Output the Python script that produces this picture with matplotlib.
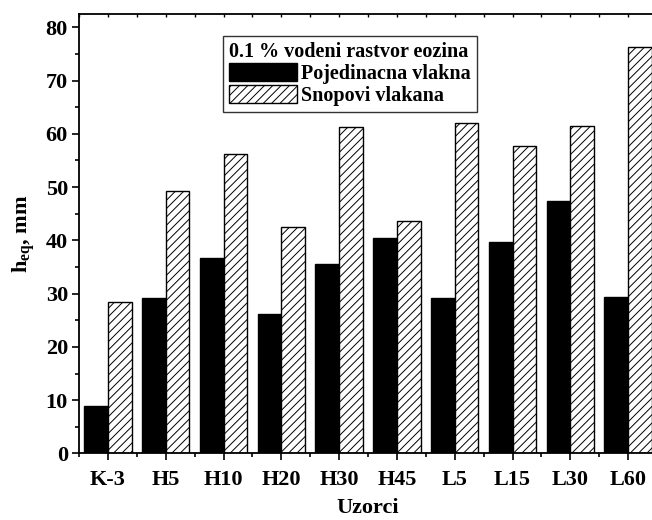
import matplotlib
matplotlib.use('Agg')
import matplotlib.pyplot as plt
import matplotlib.patches as mpatches
import numpy as np

# Data
samples = ['K-3', 'H5', 'H10', 'H20', 'H30', 'H45', 'L5', 'L15', 'L30', 'L60']
single_fibers = [8.9, 29.2, 36.6, 26.2, 35.6, 40.4, 29.2, 39.6, 47.3, 29.4]
fiber_bundles = [28.4, 49.3, 56.3, 42.5, 61.3, 43.6, 62.0, 57.8, 61.5, 76.3]

plt.rcParams['font.family'] = 'Liberation Serif'
plt.rcParams['font.weight'] = 'bold'
plt.rcParams['mathtext.fontset'] = 'custom'
plt.rcParams['mathtext.rm'] = 'Liberation Serif:bold'
plt.rcParams['mathtext.bf'] = 'Liberation Serif:bold'
plt.rcParams['mathtext.it'] = 'Liberation Serif:bold'
plt.rcParams['hatch.linewidth'] = 0.7

fig = plt.figure(figsize=(6.52, 5.2), dpi=100)
# axes extend slightly past the right edge, as in the reference
ax = fig.add_axes([79 / 652, (520 - 453.4) / 520, 578 / 652, (453.4 - 14) / 520])

x = np.arange(1, len(samples) + 1)
w = 0.41
ax.bar(x - w / 2, single_fibers, w, color='black', edgecolor='black',
       linewidth=1)
ax.bar(x + w / 2, fiber_bundles, w, color='white', edgecolor='black',
       linewidth=1, hatch='////')

ax.set_xlim(0.5, 10.5)
ax.set_ylim(0, 82.5)
ax.set_xticks(x)
ax.set_xticklabels(samples)
ax.set_xticks(np.arange(0.5, 11, 1), minor=True)
ax.set_yticks(np.arange(0, 81, 10))
ax.set_yticks(np.arange(5, 81, 10), minor=True)

ax.tick_params(axis='both', which='major', direction='out', length=5,
               width=1.2, labelsize=16, pad=3)
ax.tick_params(axis='both', which='minor', direction='out', length=3,
               width=1.2)
ax.tick_params(axis='x', which='major', pad=7)
for side in ['left', 'bottom', 'top', 'right']:
    ax.spines[side].set_linewidth(1.3)

# small inward ticks along the top spine
top = ax.secondary_xaxis('top')
top.set_xticks(np.arange(0.5, 11, 0.5))
top.tick_params(direction='in', length=2, width=1, labeltop=False)
top.spines['top'].set_visible(False)

ax.set_xlabel('Uzorci', fontsize=16, fontweight='bold', labelpad=6)
ax.set_ylabel(r'h$_{\mathrm{eq}}$, mm', fontsize=16, fontweight='bold',
              labelpad=6)

handles = [mpatches.Patch(facecolor='black', edgecolor='black',
                          label='Pojedinacna vlakna'),
           mpatches.Patch(facecolor='white', edgecolor='black', hatch='////',
                          label='Snopovi vlakana')]
leg = ax.legend(handles=handles, loc='upper left',
                bbox_to_anchor=(0.249, 0.951), fontsize=14.5, frameon=True,
                fancybox=False, edgecolor='black', handlelength=3.4,
                handleheight=1.0, handletextpad=0.2, borderpad=0.3,
                labelspacing=0.05, borderaxespad=0,
                title='0.1 % vodeni rastvor eozina', alignment='left',
                title_fontproperties={'size': 14.5, 'weight': 'bold'})
leg.get_frame().set_linewidth(1.0)
leg._legend_box.sep = 1

fig.savefig('out.png', dpi=100)
